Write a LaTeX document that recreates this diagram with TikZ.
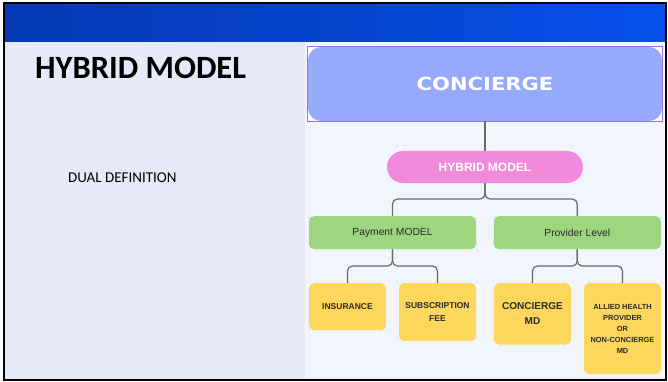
\documentclass[tikz,border=0pt]{standalone}
\usepackage{fontspec}
\usepackage{graphicx}
\setmainfont{Carlito}
\newfontfamily\boxfont{Liberation Sans}
\newfontfamily\headfont{DejaVu Sans}
\usetikzlibrary{positioning}

\definecolor{slidebg}{RGB}{229,233,248}
\definecolor{panelbg}{RGB}{243,245,252}
\definecolor{griddot}{RGB}{222,225,236}
\definecolor{bardark}{RGB}{5,56,178}
\definecolor{barlight}{RGB}{6,80,236}
\definecolor{concfill}{RGB}{150,170,252}
\definecolor{selpurple}{RGB}{156,110,236}
\definecolor{hybfill}{RGB}{242,138,219}
\definecolor{grnfill}{RGB}{158,214,128}
\definecolor{ylwfill}{RGB}{253,214,92}
\definecolor{linkgray}{RGB}{105,105,105}
\definecolor{boxtext}{RGB}{42,42,42}

\tikzset{
  link/.style={draw=linkgray, line width=1.2pt, rounded corners=5pt},
  concbox/.style={fill=concfill, rounded corners=13pt, minimum width=354pt,
    minimum height=74pt, inner sep=0pt, text=white,
    font=\headfont\bfseries\fontsize{18}{20}\selectfont},
  hybbox/.style={fill=hybfill, rounded corners=16pt, minimum width=196pt,
    minimum height=32pt, inner sep=0pt, text=white,
    font=\boxfont\bfseries\fontsize{12}{14}\selectfont},
  greenbox/.style={fill=grnfill, rounded corners=5pt, minimum width=167pt,
    minimum height=33pt, inner sep=0pt, text=boxtext,
    font=\boxfont\fontsize{10.3}{12}\selectfont},
  yellowbox/.style={fill=ylwfill, rounded corners=5pt, minimum width=77pt,
    anchor=north, inner sep=0pt, align=center, text=boxtext},
}

\begin{document}
\begin{tikzpicture}[x=1pt, y=-1pt]

  \useasboundingbox (0,0) rectangle (668,382);
  \fill[white] (0,0) rectangle (668,382);

  % slide background and title bar
  \fill[slidebg] (3,3) rectangle (666,380);
  \shade[left color=bardark, right color=barlight] (3,3) rectangle (666,42);

  % dotted canvas behind the chart
  \fill[panelbg] (305,42) rectangle (665,378);
  \foreach \gx in {309,317,...,661}
    \foreach \gy in {50,58,...,374}
      \fill[griddot] (\gx,\gy) circle (0.8);

  \draw[line width=2pt] (3.5,3) rectangle (665.5,380);

  % left column
  \node[anchor=base west, inner sep=0pt, font=\bfseries\fontsize{32.5}{36}\selectfont]
    (title) at (35,79) {HYBRID MODEL};
  \node[anchor=base west, inner sep=0pt, font=\fontsize{15}{18}\selectfont]
    (dual) at (68,182.5) {DUAL DEFINITION};

  % top of the chart
  \fill[white] (308,47) rectangle (662,121);
  \node[concbox] (conc) at (485,84) {\scalebox{1.17}[1]{CONCIERGE}};
  \draw[selpurple, line width=0.8pt] (conc.north west) rectangle (conc.south east);

  \node[hybbox] (hyb) at (485,167) {HYBRID MODEL};

  \node[greenbox] (pay) at (392.5,232.7) {Payment MODEL};
  \node[greenbox] (prov) at (577.3,232.7) {Provider Level};

  % leaves
  \node[yellowbox, minimum height=47pt, font=\boxfont\bfseries\fontsize{8.5}{13}\selectfont]
    (ins) at (347.5,283) {INSURANCE};
  \node[yellowbox, minimum height=57.7pt, font=\boxfont\bfseries\fontsize{8.5}{13}\selectfont]
    (sub) at (437.5,283) {SUBSCRIPTION\\FEE};
  \node[yellowbox, minimum height=61.3pt, font=\boxfont\bfseries\fontsize{10}{14.7}\selectfont]
    (cmd) at (532.5,283) {CONCIERGE\\MD};
  \node[yellowbox, minimum height=91pt, font=\boxfont\bfseries\fontsize{7.4}{11}\selectfont]
    (ahp) at (622.5,283) {ALLIED HEALTH\\PROVIDER\\OR\\NON-CONCIERGE\\MD};

  % connectors
  \coordinate (j0) at (485,199);
  \coordinate (j1) at (392.5,266);
  \coordinate (j2) at (577.3,266);

  \draw[link] (conc.south) -- (hyb.north);
  \draw[link] (hyb.south) -- (j0) -| (pay.north);
  \draw[link] (hyb.south) -- (j0) -| (prov.north);
  \draw[link] (pay.south) -- (j1) -| (ins.north);
  \draw[link] (pay.south) -- (j1) -| (sub.north);
  \draw[link] (prov.south) -- (j2) -| (cmd.north);
  \draw[link] (prov.south) -- (j2) -| (ahp.north);

\end{tikzpicture}
\end{document}
